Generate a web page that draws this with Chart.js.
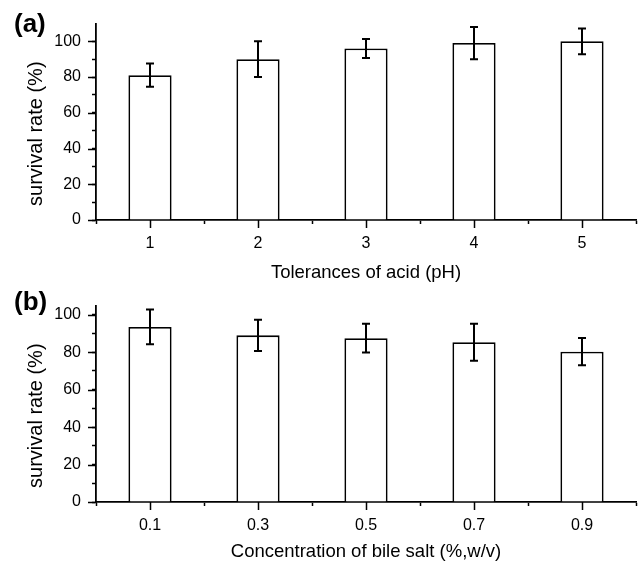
<!DOCTYPE html>
<html>
<head>
<meta charset="utf-8">
<script src="https://cdn.jsdelivr.net/npm/chart.js@4.4.0/dist/chart.umd.min.js"></script>
<style>
  html, body { margin: 0; padding: 0; background: #fff; }
  #wrap { position: relative; width: 640px; height: 566px; overflow: hidden; }
  canvas { position: absolute; left: 0; }
  #chartA { top: 0; }
  #chartB { top: 282px; }
</style>
</head>
<body>
<div id="wrap">
  <canvas id="chartA" width="640" height="290"></canvas>
  <canvas id="chartB" width="640" height="284"></canvas>
</div>
<script>
// panel (a): acid tolerance
const acidLabels = ['1', '2', '3', '4', '5'];
const acidSurvival = [81, 90, 96, 99, 100];
const acidError = [6.5, 10, 5.3, 9, 7.2];

// panel (b): bile salt tolerance
const bileLabels = ['0.1', '0.3', '0.5', '0.7', '0.9'];
const bileSurvival = [93.5, 89, 87.5, 85.3, 80.3];
const bileError = [9.3, 8.3, 7.7, 9.9, 7.3];

const FONT = '"Liberation Sans", Arial, sans-serif';

// error bars, long ticks, panel tag and y title
const panelExtras = {
  id: 'panelExtras',
  afterDatasetsDraw(chart, args, opts) {
    const ctx = chart.ctx;
    const ys = chart.scales.y;
    const meta = chart.getDatasetMeta(0);
    const vals = chart.data.datasets[0].data;
    ctx.save();
    ctx.strokeStyle = '#000';
    ctx.lineWidth = 2;
    meta.data.forEach((bar, i) => {
      const top = ys.getPixelForValue(vals[i] + opts.errors[i]);
      const bot = ys.getPixelForValue(vals[i] - opts.errors[i]);
      ctx.beginPath();
      ctx.moveTo(bar.x, top); ctx.lineTo(bar.x, bot);
      ctx.moveTo(bar.x - 4, top); ctx.lineTo(bar.x + 4, top);
      ctx.moveTo(bar.x - 4, bot); ctx.lineTo(bar.x + 4, bot);
      ctx.stroke();
    });
    ctx.restore();
  },
  afterDraw(chart, args, opts) {
    const ctx = chart.ctx;
    const xs = chart.scales.x, ys = chart.scales.y;
    const area = chart.chartArea;
    ctx.save();
    ctx.strokeStyle = '#000';
    ctx.lineWidth = 1.5;
    ctx.beginPath();
    // major ticks on x at the categories
    xs.ticks.forEach((t, i) => {
      const px = Math.round(xs.getPixelForTick(i)) + 0.5;
      ctx.moveTo(px, area.bottom); ctx.lineTo(px, area.bottom + 8);
    });
    // major ticks on y every 20
    ys.ticks.forEach(t => {
      if (t.value % 20 === 0 && t.value <= 100) {
        const py = Math.round(ys.getPixelForValue(t.value)) + 0.5;
        ctx.moveTo(area.left - 8, py); ctx.lineTo(area.left, py);
      }
    });
    ctx.stroke();

    ctx.fillStyle = '#000';
    ctx.font = 'bold 26px ' + FONT;
    ctx.textBaseline = 'middle';
    ctx.textAlign = 'left';
    ctx.fillText(opts.tag, opts.tagX, opts.tagY);

    ctx.font = '20px ' + FONT;
    ctx.textAlign = 'center';
    ctx.translate(opts.titleX, (area.top + area.bottom) / 2 + 12);
    ctx.rotate(-Math.PI / 2);
    ctx.fillText(opts.yTitle, 0, 0);
    ctx.restore();
  }
};

function makePanel(canvasId, labels, values, errors, xTitle, yMax, tag, tagY, xHeight, titlePad) {
  return new Chart(document.getElementById(canvasId), {
    type: 'bar',
    data: {
      labels: labels,
      datasets: [{
        data: values,
        backgroundColor: '#fff',
        borderColor: '#000',
        borderWidth: 1.8,
        barPercentage: 0.4,
        categoryPercentage: 1.0
      }]
    },
    options: {
      responsive: false,
      animation: false,
      devicePixelRatio: 1,
      layout: { padding: { top: 23.4, left: 0, right: 4, bottom: 0 } },
      plugins: {
        legend: { display: false },
        tooltip: { enabled: false },
        panelExtras: { errors: errors, tag: tag, tagX: 14, tagY: tagY, titleX: 36, yTitle: 'survival rate (%)' }
      },
      scales: {
        x: {
          border: { color: '#000', width: 1.8 },
          grid: { drawOnChartArea: false, offset: true, tickLength: 4, tickWidth: 1.5, tickColor: '#000' },
          ticks: { padding: 10, color: '#000', font: { family: FONT, size: 16 } },
          title: { display: true, text: xTitle, color: '#000', font: { family: FONT, size: 18.5 }, padding: { top: 0, bottom: titlePad } },
          afterFit: s => { s.height = xHeight; }
        },
        y: {
          min: 0,
          max: yMax,
          border: { color: '#000', width: 1.8 },
          grid: {
            drawOnChartArea: false, tickLength: 4, tickWidth: 1.5,
            tickColor: c => (c.tick && c.tick.value % 10 === 0 && c.tick.value <= 100) ? '#000' : 'rgba(0,0,0,0)'
          },
          ticks: {
            stepSize: 10, autoSkip: false, includeBounds: false, padding: 11, color: '#000',
            font: { family: FONT, size: 16 },
            callback: v => (v % 20 === 0 && v <= 100) ? String(v) : ''
          },
          afterFit: s => { s.width = 96; }
        }
      }
    },
    plugins: [panelExtras]
  });
}

makePanel('chartA', acidLabels, acidSurvival, acidError, 'Tolerances of acid (pH)', 110, '(a)', 24.5, 70, 6);
makePanel('chartB', bileLabels, bileSurvival, bileError, 'Concentration of bile salt (%,w/v)', 105, '(b)', 21, 64, 3);
</script>
</body>
</html>
